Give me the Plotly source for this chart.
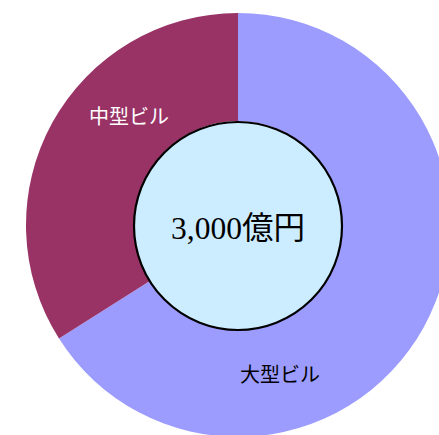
import plotly.graph_objects as go

labels = ["大型ビル", "中型ビル"]
values = [66, 34]
colors = ["#9C9CFF", "#993366"]
center_text = "3,000億円"

W, H = 476, 450
L, T = 26, 13
S = 424  # plot square


def px(x):
    return (x - L) / S


def py(y):
    return 1 - (y - T) / S


fig = go.Figure(go.Pie(
    labels=labels,
    values=values,
    hole=0.49,
    sort=False,
    direction="clockwise",
    rotation=0,
    marker=dict(colors=colors, line=dict(width=0)),
    textinfo="none",
    hoverinfo="label+value",
    showlegend=False,
))

fig.add_shape(type="circle", xref="paper", yref="paper",
              x0=px(134), x1=px(342), y0=py(330), y1=py(122),
              fillcolor="#CCECFF", line=dict(color="black", width=2.2))

common = dict(xref="paper", yref="paper", showarrow=False,
              xanchor="center", yanchor="middle")
fig.add_annotation(x=px(238), y=py(228), text=center_text,
                   font=dict(family="Liberation Serif, Noto Sans CJK JP", size=31.5, color="black"),
                   **common)
fig.add_annotation(x=px(129), y=py(115), text=labels[1],
                   font=dict(family="Noto Sans CJK JP", size=20, color="white"),
                   **common)
fig.add_annotation(x=px(280), y=py(373), text=labels[0],
                   font=dict(family="Noto Sans CJK JP", size=20, color="black"),
                   **common)

fig.update_layout(
    width=W, height=H,
    margin=dict(l=L, r=W - L - S, t=T, b=H - T - S),
    paper_bgcolor="white", plot_bgcolor="white",
)

fig.write_html("out.html",
               post_script="document.body.style.margin='0';document.body.style.overflow='hidden';document.documentElement.style.overflow='hidden';")
